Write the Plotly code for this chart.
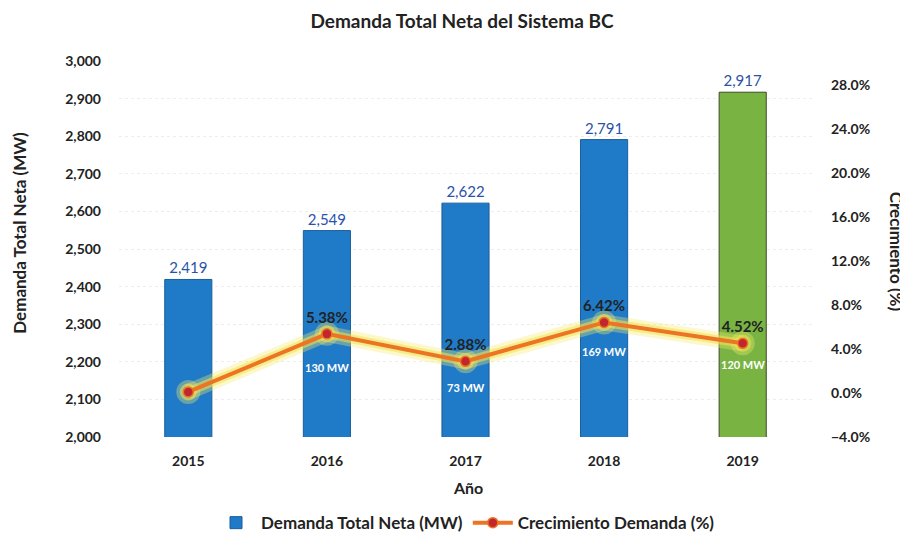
import plotly.graph_objects as go

# data
years = ["2015", "2016", "2017", "2018", "2019"]
demand_mw = [2419, 2549, 2622, 2791, 2917]
growth_pct = [0.1, 5.38, 2.88, 6.42, 4.52]
growth_labels = ["", "5.38%", "2.88%", "6.42%", "4.52%"]
increment_labels = ["", "130 MW", "73 MW", "169 MW", "120 MW"]
increment_shift = [0, -34, -26, -29, -21]

bar_colors = ["#1f7bc8"] * 4 + ["#79b443"]
bar_edges = ["#1a5e9a"] * 4 + ["#3c4a2a"]
font_family = "Lato, 'Noto Sans', sans-serif"

fig = go.Figure()

fig.add_trace(go.Bar(
    x=years,
    y=demand_mw,
    name="Demanda Total Neta (MW)",
    marker=dict(color=bar_colors, line=dict(color=bar_edges, width=1)),
    width=0.34,
    text=[f"{v:,}" for v in demand_mw],
    textposition="outside",
    textfont=dict(color="#2a52a8", size=15),
    cliponaxis=False,
))

# soft yellow glow under the growth line
fig.add_trace(go.Scatter(
    x=years,
    y=growth_pct,
    yaxis="y2",
    mode="lines+markers",
    line=dict(color="rgba(245,235,110,0.35)", width=16),
    marker=dict(size=24, color="rgba(245,235,110,0.35)"),
    showlegend=False,
    hoverinfo="skip",
))
fig.add_trace(go.Scatter(
    x=years,
    y=growth_pct,
    yaxis="y2",
    mode="lines+markers",
    line=dict(color="rgba(240,225,80,0.55)", width=9),
    marker=dict(size=17, color="rgba(240,225,80,0.55)"),
    showlegend=False,
    hoverinfo="skip",
))

fig.add_trace(go.Scatter(
    x=years,
    y=growth_pct,
    yaxis="y2",
    name="Crecimiento Demanda (%)",
    mode="lines+markers+text",
    line=dict(color="#ec7424", width=4),
    marker=dict(size=10, color="#c2262e", line=dict(color="#ec7424", width=1.5)),
    text=growth_labels,
    textposition="top center",
    textfont=dict(color="#222222", size=15, family=font_family, weight="bold"),
    cliponaxis=False,
))

for i, (g, lab, dy) in enumerate(zip(growth_pct, increment_labels, increment_shift)):
    if lab:
        fig.add_annotation(
            x=i, xref="x", y=g, yref="y2", text=lab, showarrow=False, yshift=dy,
            font=dict(color="white", size=11, family=font_family, weight="bold"),
        )

# axis titles as annotations so they sit where the reference has them
axis_title_font = dict(size=17, color="#222222", family=font_family, weight="bold")
fig.add_annotation(text="Demanda Total Neta (MW)", xref="paper", yref="paper",
                   x=-0.143, y=0.543, xanchor="center", yanchor="middle",
                   textangle=-90, showarrow=False, font=axis_title_font)
fig.add_annotation(text="Crecimiento (%)", xref="paper", yref="paper",
                   x=1.123, y=0.492, xanchor="center", yanchor="middle",
                   textangle=90, showarrow=False, font=axis_title_font)
fig.add_annotation(text="Año", xref="paper", yref="paper",
                   x=0.504, y=-0.133, xanchor="center", yanchor="middle",
                   showarrow=False,
                   font=dict(size=16, color="#222222", family=font_family, weight="bold"))

fig.update_layout(
    width=908,
    height=539,
    margin=dict(l=111, r=104, t=53, b=110, autoexpand=False),
    paper_bgcolor="white",
    plot_bgcolor="white",
    font=dict(family=font_family, color="#222222", size=14),
    title=dict(
        text="<b>Demanda Total Neta del Sistema BC</b>",
        x=0.5, xanchor="center", y=0.975, yanchor="middle",
        font=dict(size=19, color="#222222"),
    ),
    xaxis=dict(
        type="category",
        automargin=False,
        tickfont=dict(size=14, weight="bold"),
        ticklabelstandoff=14,
        showgrid=False,
        showline=False,
        range=[-0.5, 4.5],
    ),
    yaxis=dict(
        automargin=False,
        range=[2000, 3000],
        dtick=100,
        tickformat=",",
        tickfont=dict(size=14, weight="bold"),
        ticklabelstandoff=17,
        showgrid=True,
        gridcolor="rgba(0,0,0,0.07)",
        griddash="dot",
        zeroline=False,
    ),
    yaxis2=dict(
        automargin=False,
        overlaying="y",
        side="right",
        range=[-4, 30.2],
        tick0=-4,
        dtick=4,
        tickformat=".1f",
        ticksuffix="%",
        tickfont=dict(size=14, weight="bold"),
        ticklabelstandoff=18,
        showgrid=False,
        zeroline=False,
    ),
    legend=dict(
        orientation="h",
        x=0.5, xanchor="center",
        y=-0.229, yanchor="middle",
        font=dict(size=17, weight="bold"),
        traceorder="normal",
        itemwidth=40,
    ),
    bargap=0.66,
)

fig.write_html("out.html")
